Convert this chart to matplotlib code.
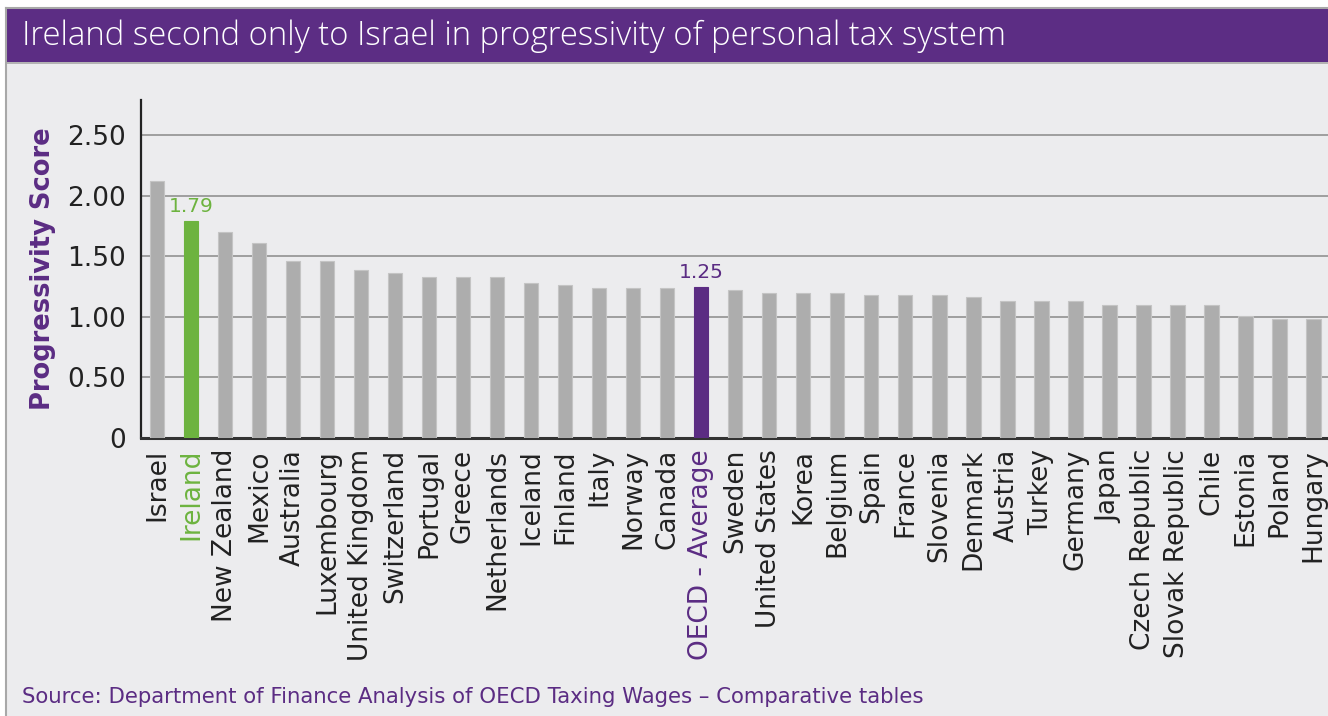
import matplotlib
matplotlib.use("Agg")
import matplotlib.pyplot as plt
from matplotlib.patches import Rectangle
from matplotlib.lines import Line2D

countries = ["Israel", "Ireland", "New Zealand", "Mexico", "Australia", "Luxembourg",
             "United Kingdom", "Switzerland", "Portugal", "Greece", "Netherlands",
             "Iceland", "Finland", "Italy", "Norway", "Canada", "OECD - Average",
             "Sweden", "United States", "Korea", "Belgium", "Spain", "France",
             "Slovenia", "Denmark", "Austria", "Turkey", "Germany", "Japan",
             "Czech Republic", "Slovak Republic", "Chile", "Estonia", "Poland", "Hungary"]
scores = [2.12, 1.79, 1.70, 1.61, 1.46, 1.46, 1.39, 1.36, 1.33, 1.33, 1.33,
          1.28, 1.26, 1.24, 1.24, 1.24, 1.25, 1.22, 1.20, 1.20, 1.20, 1.18, 1.18,
          1.18, 1.16, 1.13, 1.13, 1.13, 1.10, 1.10, 1.10, 1.10, 1.01, 0.98, 0.98]
yticks = [0, 0.5, 1.0, 1.5, 2.0, 2.5]
ytick_labels = ["0", "0.50", "1.00", "1.50", "2.00", "2.50"]
highlight = {"Ireland": "#6DB33F", "OECD - Average": "#5B2C83"}

PURPLE = "#5B2C83"
BG = "#ECECEE"
W, H = 1328, 716
fig = plt.figure(figsize=(W / 100, H / 100), dpi=100)
fig.patch.set_facecolor("white")

# background panel, border, title band
fig.patches.append(Rectangle((6 / W, 0), 1 - 6 / W, 1 - 8 / H, transform=fig.transFigure,
                             facecolor=BG, edgecolor="none", zorder=-10))
fig.patches.append(Rectangle((7 / W, 1 - 62 / H), 1, 53 / H, transform=fig.transFigure,
                             facecolor="#5C2D84", edgecolor="none", zorder=-9))
fig.lines.append(Line2D([6 / W, 6 / W], [0, 1 - 8 / H], transform=fig.transFigure,
                        color="#A8A8A8", lw=1.5, zorder=-8))
fig.lines.append(Line2D([6 / W, 1], [1 - 8 / H, 1 - 8 / H], transform=fig.transFigure,
                        color="#A8A8A8", lw=1.5, zorder=-8))
fig.lines.append(Line2D([6 / W, 1], [1 - 63 / H, 1 - 63 / H], transform=fig.transFigure,
                        color="#A8A8A8", lw=1.2, zorder=-8))
fig.text(22 / W, 1 - 36 / H, "Ireland second only to Israel in progressivity of personal tax system",
         color="white", fontsize=23.7, fontfamily="Open Sans", fontweight="light",
         va="center", ha="left")

ax = fig.add_axes([141 / W, 1 - 438 / H, 1 - 141 / W, (438 - 100) / H])
ax.set_zorder(2)
ax.set_facecolor("none")
x = list(range(len(countries)))
colors = [highlight.get(c, "#ADADAD") for c in countries]
edges = [highlight.get(c, "#C4C4C4") for c in countries]
ax.bar(x, scores, width=0.44, color=colors, edgecolor=edges, linewidth=0.8, zorder=3)
ax.set_xlim(-0.47, len(countries) - 0.56)
ax.set_ylim(0, 2.79)
ax.set_yticks(yticks)
ax.set_yticklabels(ytick_labels, fontsize=19, fontfamily="DejaVu Sans", color="#222222")
ax.set_xticks(x)
ax.set_xticklabels(countries, rotation=90, fontsize=19, fontfamily="DejaVu Sans", color="#222222")
for lbl, c in zip(ax.get_xticklabels(), countries):
    if c in highlight:
        lbl.set_color(highlight[c])
ax.tick_params(axis="both", length=0)
ax.tick_params(axis="y", pad=11)
ax.tick_params(axis="x", pad=8)
ax.yaxis.grid(True, color="#9E9E9E", lw=1.4, zorder=1)
ax.set_axisbelow(True)
for s in ["top", "right"]:
    ax.spines[s].set_visible(False)
ax.spines["left"].set_color("#222222")
ax.spines["left"].set_linewidth(1.6)
ax.spines["bottom"].set_color("#333333")
ax.spines["bottom"].set_linewidth(2.2)
ax.set_ylabel("Progressivity Score", fontsize=18.5, fontweight="bold", color=PURPLE,
              fontfamily="DejaVu Sans", labelpad=8)

for c, col in highlight.items():
    i = countries.index(c)
    ax.text(i, scores[i] + 0.04, f"{scores[i]:.2f}", color=col, fontsize=14.5,
            fontfamily="DejaVu Sans", ha="center", va="bottom")

fig.text(22 / W, 1 - 697 / H, "Source: Department of Finance Analysis of OECD Taxing Wages \u2013 Comparative tables",
         color=PURPLE, fontsize=15.3, fontfamily="DejaVu Sans", va="center", ha="left")

fig.savefig("out.png", dpi=100)
